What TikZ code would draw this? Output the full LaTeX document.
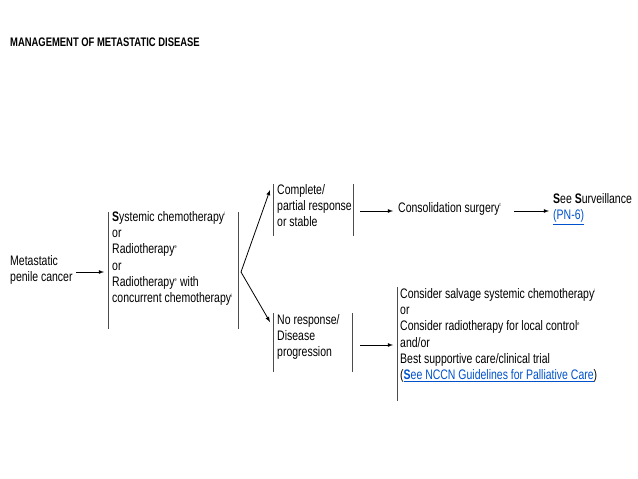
\documentclass[tikz,border=0pt]{standalone}
\usepackage{fontspec}
\setmainfont{Liberation Sans}[FakeStretch=0.76]
\newcommand{\sps}[1]{\textsuperscript{\tiny #1}}
\begin{document}
\begin{tikzpicture}[x=1pt,y=-1pt,
  txt/.style={font=\fontsize{13.8}{16.3}\selectfont, align=left, inner sep=0pt, anchor=north west},
  bar/.style={draw=black!70, line width=0.8pt},
  arr/.style={-latex, line width=0.8pt}]
\useasboundingbox (0,0) rectangle (638,479);
\node[txt, font=\fontsize{12.4}{14}\selectfont\bfseries] (title) at (10,38) {MANAGEMENT OF METASTATIC DISEASE};
\node[txt] (meta) at (10,255) {Metastatic\\penile cancer};
\node[txt] (sys) at (112,211) {\textbf{S}ystemic chemotherapy\sps{i}\\or\\Radiotherapy\sps{e}\\or\\Radiotherapy\sps{e} with\\concurrent chemotherapy\sps{i}};
\coordinate (sysL1) at (108,212); \coordinate (sysL2) at (108,329);
\coordinate (sysR1) at (238,212); \coordinate (sysR2) at (238,329);
\draw[bar] (sysL1)--(sysL2); \draw[bar] (sysR1)--(sysR2);
\node[txt] (comp) at (277,184) {Complete/\\partial response\\or stable};
\coordinate (c1) at (273,184); \coordinate (c2) at (273,236);
\coordinate (c3) at (353,184); \coordinate (c4) at (353,236);
\draw[bar] (c1)--(c2); \draw[bar] (c3)--(c4);
\node[txt] (nor) at (277,314) {No response/\\Disease\\progression};
\coordinate (n1) at (273,313); \coordinate (n2) at (273,372);
\coordinate (n3) at (352,313); \coordinate (n4) at (352,372);
\draw[bar] (n1)--(n2); \draw[bar] (n3)--(n4);
\node[txt] (cons) at (398,202) {Consolidation surgery\sps{t}};
\node[txt] (surv) at (553,193) {\textbf{S}ee \textbf{S}urveillance\\\textcolor{blue!60!cyan!80!black}{\underline{(PN-6)}}};
\node[txt] (salv) at (400,288) {Consider salvage systemic chemotherapy\sps{i}\\or\\Consider radiotherapy for local control\sps{e}\\and/or\\Best supportive care/clinical trial\\(\textcolor{blue!60!cyan!80!black}{\underline{\textbf{S}ee NCCN Guidelines for Palliative Care}})};
\coordinate (s1) at (397,287); \coordinate (s2) at (397,401);
\draw[bar] (s1)--(s2);
\coordinate (fork) at (241,272);
\coordinate (m1) at (76,272); \coordinate (m2) at (104,272);
\draw[arr] (m1) -- (m2);
\coordinate (t1) at (270,190); \coordinate (t2) at (270,322);
\draw[arr] (fork) -- (t1);
\draw[arr] (fork) -- (t2);
\coordinate (a1) at (360,211); \coordinate (a2) at (393,211);
\draw[arr] (a1) -- (a2);
\coordinate (b1) at (514,211); \coordinate (b2) at (549,211);
\draw[arr] (b1) -- (b2);
\coordinate (d1) at (360,345); \coordinate (d2) at (393,345);
\draw[arr] (d1) -- (d2);
\end{tikzpicture}
\end{document}
